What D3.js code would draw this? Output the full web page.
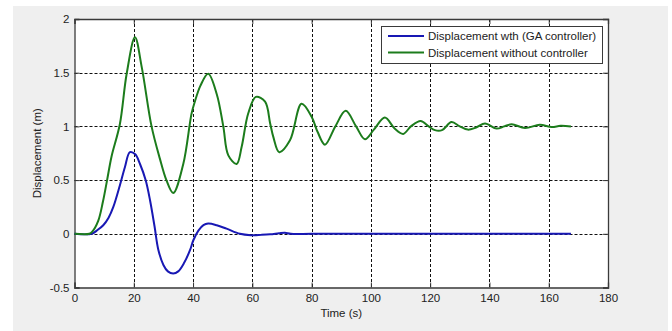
<!DOCTYPE html>
<html>
<head>
<meta charset="utf-8">
<script src="https://cdn.jsdelivr.net/npm/d3@7"></script>
<style>
  body { margin: 0; background: #fff; }
  svg { display: block; font-family: Arial, "Liberation Sans", sans-serif; }
</style>
</head>
<body>
<div class="chart"></div>
<script>
// values
const xTicks = [0, 20, 40, 60, 80, 100, 120, 140, 160, 180];
const yTicks = [-0.5, 0, 0.5, 1, 1.5, 2];

const seriesNames = ['Displacement wth (GA controller)', 'Displacement without controller'];

const gaTime = [0, 5.8, 7.5, 9.7, 11.5, 13.1, 15.3, 17, 18.7, 20.5, 22.1, 24, 25.5, 27, 28.3, 30, 31.5, 33.3,
  35, 37, 39, 40.1, 41.8, 43.5, 45.1, 48, 51.3, 55.8, 59.5, 63, 66, 69, 71, 73, 80, 100, 130, 167.5];
const gaDisp = [0, 0, 0.03, 0.08, 0.15, 0.25, 0.45, 0.62, 0.76, 0.74, 0.65, 0.5, 0.31, 0.07, -0.15, -0.29, -0.35, -0.37,
  -0.35, -0.27, -0.15, -0.06, 0.03, 0.08, 0.095, 0.08, 0.048, 0.0, -0.013, -0.01, -0.005, 0.005, 0.01, 0.0, 0, 0, 0, 0];

const noTime = [0, 5, 6, 8, 9.6, 11, 12.5, 15.3, 17.6, 20.4, 22.7, 26, 28.8, 31, 33.3, 36.7, 39.5, 40.6, 42.5, 45.1,
  48, 50.2, 51.9, 54.7, 56.4, 58.6, 61.2, 64.3, 66, 67.1, 69.1, 72.7, 76.6, 80, 82, 84.5, 88, 91.5, 95, 98, 101,
  104.7, 108, 110.9, 113.5, 116.8, 119.5, 121.6, 124, 127.2, 130, 132.7, 135.5, 138.5, 142.4, 145, 147.5, 152,
  157, 161, 164, 167.5];
const noDisp = [0, 0, 0.02, 0.12, 0.3, 0.5, 0.72, 1.02, 1.49, 1.83, 1.55, 1.0, 0.7, 0.5, 0.38, 0.65, 1.12, 1.23, 1.38, 1.49,
  1.3, 1.0, 0.73, 0.65, 0.81, 1.12, 1.275, 1.23, 1.03, 0.9, 0.76, 0.87, 1.21, 1.09, 0.95, 0.83, 1.0, 1.145, 1.0, 0.88, 0.97,
  1.083, 0.98, 0.93, 1.0, 1.05, 1.0, 0.965, 0.965, 1.04, 1.0, 0.97, 0.99, 1.027, 0.98, 1.0, 1.02, 0.985,
  1.015, 0.995, 1.005, 1.0];

const colors = ['#1818b4', '#1c7c1c'];

const width = 672, height = 331;
const margin = { left: 74.5, right: 64, top: 19, bottom: 43.5 };

const svg = d3.select('.chart')
  .append('svg')
  .attr('width', width)
  .attr('height', height);

// figure panel
svg.append('rect')
  .attr('x', 13).attr('y', 6)
  .attr('width', 655).attr('height', 325)
  .attr('fill', '#efefef');

const x = d3.scaleLinear().domain([0, 180]).range([margin.left, width - margin.right]);
const y = d3.scaleLinear().domain([-0.5, 2]).range([height - margin.bottom, margin.top]);

svg.append('rect')
  .attr('x', x(0)).attr('y', y(2))
  .attr('width', x(180) - x(0)).attr('height', y(-0.5) - y(2))
  .attr('fill', '#fff');

// dotted grid
const grid = svg.append('g').attr('stroke', '#111').attr('stroke-width', 1).attr('stroke-dasharray', '3,2');
grid.selectAll('.gx').data(xTicks.slice(1, -1)).enter()
  .append('line')
  .attr('x1', d => Math.round(x(d)) + 0.5).attr('x2', d => Math.round(x(d)) + 0.5)
  .attr('y1', y(2)).attr('y2', y(-0.5));
grid.selectAll('.gy').data(yTicks.slice(1, -1)).enter()
  .append('line')
  .attr('y1', d => Math.round(y(d)) + 0.5).attr('y2', d => Math.round(y(d)) + 0.5)
  .attr('x1', x(0)).attr('x2', x(180));

// axes, ticks inward, on all four sides
const axisColor = '#3a3a3a';
const axBottom = svg.append('g')
  .attr('transform', `translate(0,${y(-0.5)})`)
  .call(d3.axisBottom(x).tickValues(xTicks).tickSize(-5).tickPadding(6).tickFormat(d3.format('d')));
const axLeft = svg.append('g')
  .attr('transform', `translate(${x(0)},0)`)
  .call(d3.axisLeft(y).tickValues(yTicks).tickSize(-5).tickPadding(5).tickFormat(d => d));
const axTop = svg.append('g')
  .attr('transform', `translate(0,${y(2)})`)
  .call(d3.axisTop(x).tickValues(xTicks).tickSize(-5).tickFormat(''));
const axRight = svg.append('g')
  .attr('transform', `translate(${x(180)},0)`)
  .call(d3.axisRight(y).tickValues(yTicks).tickSize(-5).tickFormat(''));

[axBottom, axLeft, axTop, axRight].forEach(g => {
  g.select('.domain').attr('stroke', axisColor).attr('stroke-width', 1.3);
  g.selectAll('.tick line').attr('stroke', axisColor);
  g.selectAll('text').attr('fill', '#222').attr('font-size', '11.5px')
    .attr('font-family', 'Arial, "Liberation Sans", sans-serif');
});

// curves
const line = d3.line()
  .x(d => x(d[0]))
  .y(d => y(d[1]))
  .curve(d3.curveCatmullRom.alpha(0.5));

const series = [
  d3.zip(gaTime, gaDisp),
  d3.zip(noTime, noDisp)
];

svg.selectAll('.curve')
  .data(series)
  .enter()
  .append('path')
  .attr('class', 'curve')
  .attr('fill', 'none')
  .attr('stroke', (d, i) => colors[i])
  .attr('stroke-width', 2)
  .attr('stroke-linejoin', 'round')
  .attr('d', line);

// axis labels
svg.append('text')
  .attr('x', (x(0) + x(180)) / 2)
  .attr('y', 317)
  .attr('text-anchor', 'middle')
  .attr('font-size', '11.5px')
  .attr('fill', '#222')
  .text('Time (s)');

svg.append('text')
  .attr('transform', `translate(41,${(y(-0.5) + y(2)) / 2}) rotate(-90)`)
  .attr('text-anchor', 'middle')
  .attr('font-size', '11.5px')
  .attr('fill', '#222')
  .text('Displacement (m)');

// legend
const legend = svg.append('g');
legend.append('rect')
  .attr('x', 381.5).attr('y', 26.5)
  .attr('width', 221).attr('height', 37)
  .attr('fill', '#fff')
  .attr('stroke', axisColor);

const rows = legend.selectAll('.row')
  .data(seriesNames)
  .enter()
  .append('g')
  .attr('transform', (d, i) => `translate(0,${36 + i * 16.5})`);

rows.append('line')
  .attr('x1', 388).attr('x2', 424)
  .attr('stroke', (d, i) => colors[i])
  .attr('stroke-width', 2);

rows.append('text')
  .attr('x', 428)
  .attr('dy', '0.35em')
  .attr('font-size', '11.5px')
  .attr('fill', '#222')
  .text(d => d);
</script>
</body>
</html>
